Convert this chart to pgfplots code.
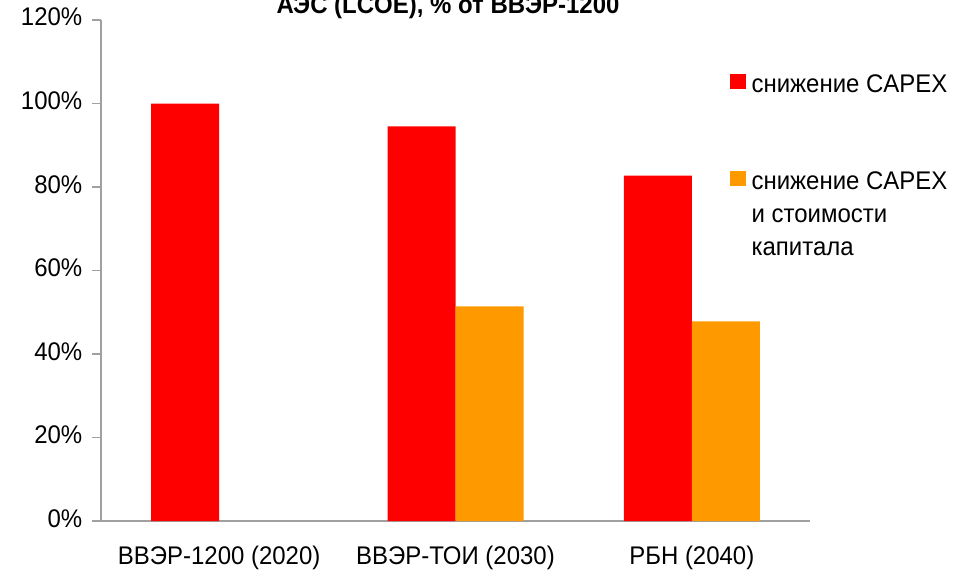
\documentclass[border=0pt]{standalone}
\usepackage{fontspec}
\setmainfont{Liberation Sans}[FakeStretch=0.94]
\usepackage{pgfplots}
\pgfplotsset{compat=1.18}

\definecolor{capexred}{HTML}{FF0000}
\definecolor{capexorange}{HTML}{FF9900}
\definecolor{axisgray}{HTML}{A0A0A0}

\newcommand{\chartfont}{\fontsize{25.5}{30}\selectfont}
\newcommand{\legendfont}{\fontsize{25.5}{33}\selectfont}

\begin{document}
\chartfont
\begin{tikzpicture}
\useasboundingbox (0pt,0pt) rectangle (959pt,574pt);
\begin{axis}[
  at={(101pt,53pt)}, anchor=south west,
  scale only axis, width=709pt, height=501pt,
  ybar=0pt, bar width=68pt,
  xmin=-0.5, xmax=2.5, ymin=0, ymax=120,
  axis x line=bottom, axis y line=left,
  axis line style={axisgray, line width=1.2pt, -},
  every tick/.style={axisgray, line width=1.2pt},
  tick align=outside, major tick length=8.5pt,
  xtick={0,1,2}, major x tick style={draw=none},
  xticklabels={ВВЭР-1200 (2020), ВВЭР-ТОИ (2030), РБН (2040)},
  extra x ticks={-0.5,0.5,1.5,2.5}, extra x tick labels={},
  extra x tick style={major tick length=9pt, tick style={axisgray, line width=1.2pt}},
  ytick={0,20,40,60,80,100,120},
  yticklabels={0\%,20\%,40\%,60\%,80\%,100\%,120\%},
  xticklabel style={anchor=base, inner sep=0pt, yshift=-34.8pt, font=\chartfont},
  yticklabel style={anchor=east, inner sep=0pt, xshift=-10pt, font=\chartfont},
  typeset ticklabels with strut=false,
  legend cell align=left,
  legend style={at={(0.887,0.9024)}, anchor=north west, draw=none, fill=none,
    inner sep=0pt, row sep=70pt, column sep=6pt,
    cells={anchor=base west},
    nodes={inner sep=0pt, font=\chartfont}},
  legend image code/.code={\fill[#1] (0pt,3pt) rectangle (15.5pt,18.5pt);},
  clip=false,
]
\addplot[fill=capexred, draw=none] coordinates {(0,100) (1,94.5) (2,82.7)};
\addplot[fill=capexorange, draw=none] coordinates {(1,51.4) (2,47.8)};
\legend{%
  \legendfont\begin{tabular}[t]{@{}l@{}}снижение CAPEX\end{tabular},
  \legendfont\begin{tabular}[t]{@{}l@{}}снижение CAPEX\\и стоимости\\капитала\end{tabular}}
\end{axis}
\node[anchor=base, inner sep=0pt, font=\chartfont\bfseries] at (448pt,560pt)
  {АЭС (LCOE), \% от ВВЭР-1200};
\end{tikzpicture}
\end{document}
